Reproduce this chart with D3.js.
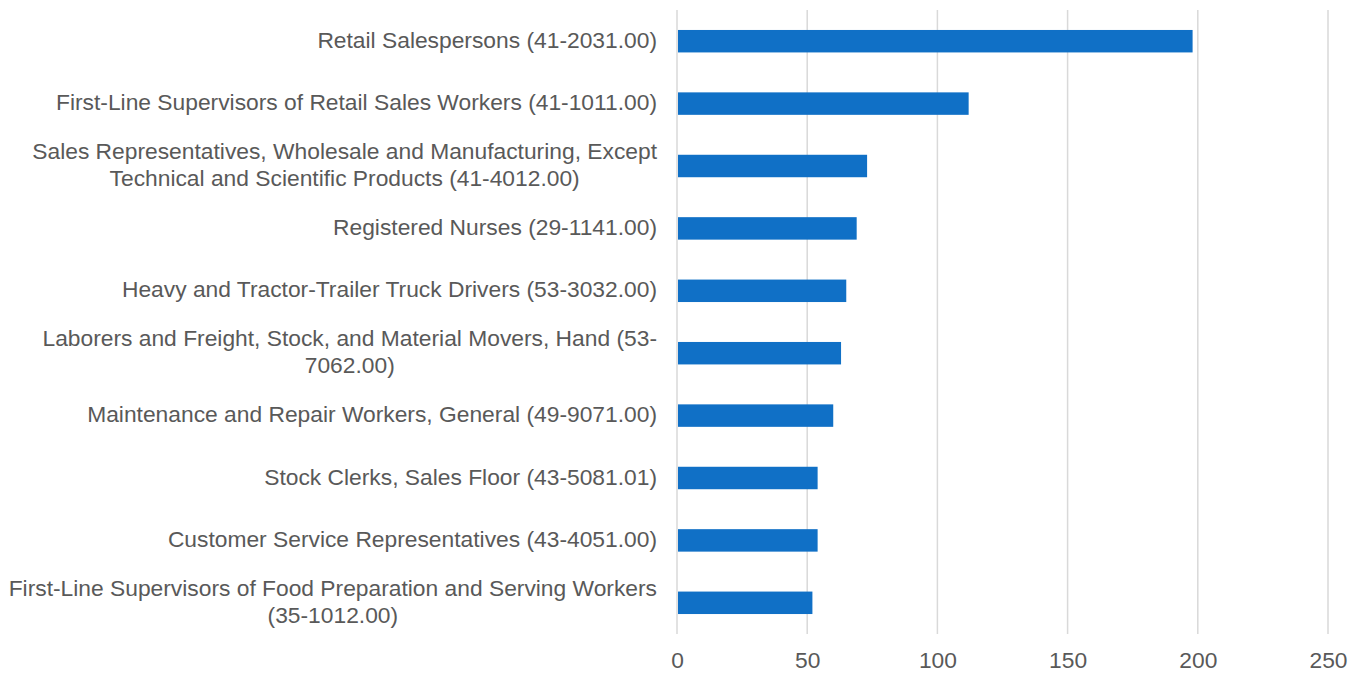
<!DOCTYPE html>
<html>
<head>
<meta charset="utf-8">
<script src="https://cdn.jsdelivr.net/npm/d3@7"></script>
<style>
  body { margin: 0; background: #fff; }
  svg { display: block; font-family: "Liberation Sans", Arial, sans-serif; }
</style>
</head>
<body>
<svg></svg>
<script>
var width = 1361;
var height = 673;
var margin = {top: 10, left: 677, bottom: 39, right: 33};
var fontSize = "22.8px";

// data (labels with explicit line breaks as in the original)
var categories = [
  "Retail Salespersons (41-2031.00)",
  "First-Line Supervisors of Retail Sales Workers (41-1011.00)",
  "Sales Representatives, Wholesale and Manufacturing, Except\nTechnical and Scientific Products (41-4012.00)",
  "Registered Nurses (29-1141.00)",
  "Heavy and Tractor-Trailer Truck Drivers (53-3032.00)",
  "Laborers and Freight, Stock, and Material Movers, Hand (53-\n7062.00)",
  "Maintenance and Repair Workers, General (49-9071.00)",
  "Stock Clerks, Sales Floor (43-5081.01)",
  "Customer Service Representatives (43-4051.00)",
  "First-Line Supervisors of Food Preparation and Serving Workers\n(35-1012.00)"
];
var values = [198, 112, 73, 69, 65, 63, 60, 54, 54, 52];
var xTicks = [0, 50, 100, 150, 200, 250];

var innerW = width - margin.left - margin.right;
var innerH = height - margin.top - margin.bottom;

var svg = d3.select("svg")
  .attr("width", width)
  .attr("height", height)
  .append("g")
  .attr("transform", "translate(" + margin.left + "," + margin.top + ")");

var x = d3.scaleLinear()
  .domain([0, 250])
  .range([0, innerW]);

var y = d3.scaleBand()
  .domain(categories)
  .range([0, innerH])
  .paddingInner(0.64)
  .paddingOuter(0.32);

// gridlines
svg.append("g")
  .selectAll("line")
  .data(xTicks)
  .enter().append("line")
  .attr("x1", function(d) { return x(d); })
  .attr("x2", function(d) { return x(d); })
  .attr("y1", 0)
  .attr("y2", innerH)
  .attr("stroke", "#d9d9d9")
  .attr("stroke-width", 1.5);

// bars
svg.append("g")
  .selectAll("rect")
  .data(categories)
  .enter().append("rect")
  .attr("x", x(0) + 1)
  .attr("y", function(d) { return y(d); })
  .attr("width", function(d, i) { return x(values[i]) - x(0) - 1; })
  .attr("height", y.bandwidth())
  .attr("fill", "#1070c6");

// x axis labels
var xAxis = svg.append("g")
  .attr("transform", "translate(0," + innerH + ")")
  .call(d3.axisBottom(x).tickValues(xTicks).tickSize(0).tickPadding(18));
xAxis.select(".domain").remove();
xAxis.selectAll("text")
  .attr("fill", "#595959")
  .style("font-size", fontSize)
  .style("font-family", "'Liberation Sans', Arial, sans-serif");

// category labels
var labelRight = -20;
var lineH = 26.5;
var labels = svg.append("g");
categories.forEach(function(c) {
  var lines = c.split("\n");
  var cy = y(c) + y.bandwidth() / 2 - 1.5;
  var t = labels.append("text")
    .attr("fill", "#595959")
    .style("font-size", fontSize)
    .attr("dominant-baseline", "central");
  if (lines.length === 1) {
    t.attr("text-anchor", "end")
      .attr("x", labelRight)
      .attr("y", cy)
      .text(c);
  } else {
    // measure widest line, then centre the block right-aligned at labelRight
    var probe = labels.append("text").style("font-size", fontSize).text(lines[0]);
    var w = 0;
    lines.forEach(function(l) {
      probe.text(l);
      w = Math.max(w, probe.node().getComputedTextLength());
    });
    probe.remove();
    var cx = labelRight - w / 2;
    t.attr("text-anchor", "middle");
    lines.forEach(function(l, i) {
      t.append("tspan")
        .attr("x", cx)
        .attr("y", cy + (i - (lines.length - 1) / 2) * lineH)
        .text(l);
    });
  }
});
</script>
</body>
</html>
